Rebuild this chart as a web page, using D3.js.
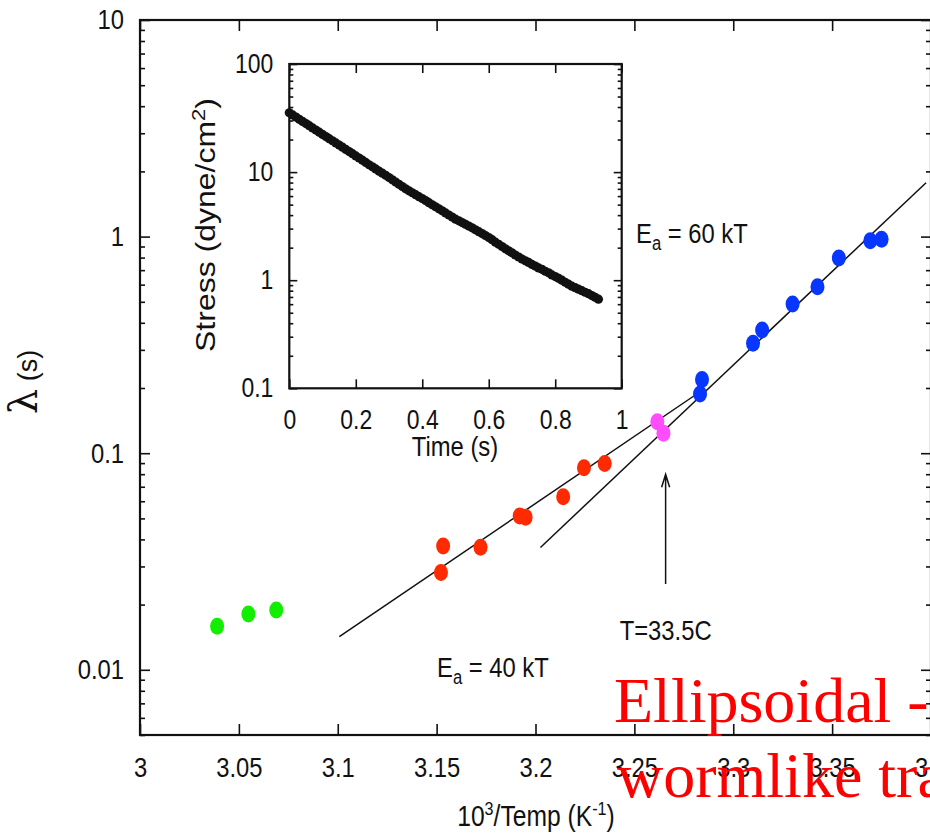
<!DOCTYPE html>
<html>
<head>
<meta charset="utf-8">
<script src="https://cdn.jsdelivr.net/npm/d3@7"></script>
<style>
  html, body { margin: 0; padding: 0; background: #fff; }
  svg { display: block; }
  text { font-family: "Liberation Sans", Arial, Helvetica, sans-serif; fill: #111; }
</style>
</head>
<body>
<svg id="chart" width="930" height="834"></svg>
<script>
// ---- main panel: relaxation time vs inverse temperature ----
const xTicks = [3, 3.05, 3.1, 3.15, 3.2, 3.25, 3.3, 3.35, 3.4];
const yTicks = [0.01, 0.1, 1, 10];

const greenX = [3.039, 3.0548, 3.0689];
const greenY = [0.0159, 0.0181, 0.0189];

const redX = [3.1522, 3.1533, 3.1722, 3.192, 3.195, 3.214, 3.2245, 3.235];
const redY = [0.0281, 0.0373, 0.0368, 0.0513, 0.0506, 0.063, 0.0857, 0.0897];

const magentaX = [3.2616, 3.2647];
const magentaY = [0.1396, 0.1236];

const blueX = [3.2832, 3.2842, 3.310, 3.3146, 3.330, 3.3426, 3.3534, 3.3693, 3.375];
const blueY = [0.1876, 0.219, 0.3216, 0.3706, 0.488, 0.587, 0.796, 0.957, 0.972];

// Arrhenius fits (Ea = 40 kT below the transition, Ea = 60 kT above)
const fit40X = [3.1008, 3.2836];
const fit40Y = [0.01422, 0.1932];
const fit60X = [3.2025, 3.3975];
const fit60Y = [0.0367, 1.774];

// transition marker
const arrowX = 3.2658;
const arrowY = [0.0249, 0.0799];

// ---- inset: stress relaxation ----
const insetXTicks = [0, 0.2, 0.4, 0.6, 0.8, 1];
const insetYTicks = [0.1, 1, 10, 100];
const time = [0.00,0.01,0.02,0.03,0.04,0.05,0.06,0.07,0.08,0.09,
              0.10,0.11,0.12,0.13,0.14,0.15,0.16,0.17,0.18,0.19,
              0.20,0.21,0.22,0.23,0.24,0.25,0.26,0.27,0.28,0.29,
              0.30,0.31,0.32,0.33,0.34,0.35,0.36,0.37,0.38,0.39,
              0.40,0.41,0.42,0.43,0.44,0.45,0.46,0.47,0.48,0.49,
              0.50,0.51,0.52,0.53,0.54,0.55,0.56,0.57,0.58,0.59,
              0.60,0.61,0.62,0.63,0.64,0.65,0.66,0.67,0.68,0.69,
              0.70,0.71,0.72,0.73,0.74,0.75,0.76,0.77,0.78,0.79,
              0.80,0.81,0.82,0.83,0.84,0.85,0.86,0.87,0.88,0.89,
              0.90,0.91,0.92,0.93];
const stress = [35.4,33.8,32.3,30.8,29.4,28.1,26.9,25.6,24.5,23.4,
                22.3,21.3,20.4,19.5,18.6,17.8,17.0,16.2,15.5,14.8,
                14.1,13.5,12.9,12.3,11.7,11.2,10.7,10.2,9.77,9.33,
                8.91,8.49,8.09,7.71,7.35,7.00,6.71,6.44,6.18,5.93,
                5.69,5.45,5.21,4.99,4.78,4.57,4.38,4.19,4.01,3.84,
                3.67,3.54,3.41,3.29,3.17,3.05,2.93,2.81,2.70,2.59,
                2.48,2.37,2.25,2.15,2.05,1.95,1.87,1.79,1.71,1.64,
                1.57,1.51,1.46,1.40,1.35,1.30,1.26,1.21,1.17,1.12,
                1.08,1.04,1.00,0.957,0.918,0.881,0.853,0.826,0.800,0.774,
                0.750,0.721,0.695,0.668];

const svg = d3.select("#chart");
const FS = 28;
const NARROW = 0.85;   // horizontal condensing of the sans-serif labels

// condense a text horizontally while keeping its anchor
function squeeze(sel, f = NARROW) {
  sel.each(function () {
    const L = this.getComputedTextLength();
    if (L > 0) d3.select(this).attr("textLength", L * f).attr("lengthAdjust", "spacingAndGlyphs");
  });
}

// ---------- main scales ----------
const x = d3.scaleLinear().domain([3, 3.4]).range([140, 931]);
const y = d3.scaleLog().domain([0.005, 10]).range([735, 20]);

const fmt = d3.format("~g");
const yMinor = y.ticks().filter(v => !yTicks.includes(v));

function styleAxis(g, size) {
  g.select(".domain").remove();
  g.selectAll("line").attr("stroke", "#111").attr("stroke-width", 1.6);
  g.selectAll("text").attr("font-size", size).attr("fill", "#111")
   .style("font-family", '"Liberation Sans",Arial,Helvetica,sans-serif')
   .call(squeeze);
}

const main = svg.append("g");

// left & right log axes with inward ticks
main.append("g").attr("transform", `translate(${x.range()[0]},0)`)
  .call(d3.axisLeft(y).tickValues(yTicks).tickSize(-10).tickPadding(16).tickFormat(fmt))
  .call(g => styleAxis(g, FS));
main.append("g").attr("transform", `translate(${x.range()[0]},0)`)
  .call(d3.axisLeft(y).tickValues(yMinor).tickSize(-5).tickFormat(""))
  .call(g => styleAxis(g, FS));
main.append("g").attr("transform", `translate(${x.range()[1]},0)`)
  .call(d3.axisRight(y).tickValues(yTicks).tickSize(-10).tickFormat(""))
  .call(g => styleAxis(g, FS));
main.append("g").attr("transform", `translate(${x.range()[1]},0)`)
  .call(d3.axisRight(y).tickValues(yMinor).tickSize(-5).tickFormat(""))
  .call(g => styleAxis(g, FS));

// bottom & top linear axes
main.append("g").attr("transform", `translate(0,${y.range()[0]})`)
  .call(d3.axisBottom(x).tickValues(xTicks).tickSize(-11).tickPadding(22).tickFormat(fmt))
  .call(g => styleAxis(g, FS));
main.append("g").attr("transform", `translate(0,${y.range()[1]})`)
  .call(d3.axisTop(x).tickValues(xTicks).tickSize(-11).tickFormat(""))
  .call(g => styleAxis(g, FS));

// frame
main.append("rect")
  .attr("x", x.range()[0]).attr("y", y.range()[1])
  .attr("width", x.range()[1] - x.range()[0])
  .attr("height", y.range()[0] - y.range()[1])
  .attr("fill", "none").attr("stroke", "#111").attr("stroke-width", 2.2);

// fit lines
const lineGen = d3.line().x(d => x(d[0])).y(d => y(d[1]));
[[fit40X, fit40Y], [fit60X, fit60Y]].forEach(([xs, ys]) => {
  main.append("path")
    .datum(xs.map((v, i) => [v, ys[i]]))
    .attr("d", lineGen)
    .attr("fill", "none").attr("stroke", "#111").attr("stroke-width", 1.5);
});

// data points
const groups = [
  [greenX, greenY, "#11ee00"],
  [redX, redY, "#ff2a00"],
  [magentaX, magentaY, "#ff4cff"],
  [blueX, blueY, "#0736ff"]
];
groups.forEach(([xs, ys, c]) => {
  main.append("g").selectAll("ellipse")
    .data(xs.map((v, i) => [v, ys[i]]))
    .join("ellipse")
    .attr("cx", d => x(d[0])).attr("cy", d => y(d[1]))
    .attr("rx", 7).attr("ry", 8.5)
    .attr("fill", c);
});

// transition arrow
const ax = x(arrowX);
const aBot = y(arrowY[0]), aTop = y(arrowY[1]);
main.append("path")
  .attr("d", `M${ax},${aBot}L${ax},${aTop}M${ax - 4},${aTop + 13}L${ax},${aTop}L${ax + 4},${aTop + 13}`)
  .attr("fill", "none").attr("stroke", "#111").attr("stroke-width", 1.5);

main.append("text").attr("x", ax).attr("y", 640).attr("text-anchor", "middle")
  .attr("font-size", FS).text("T=33.5C").call(squeeze);

// activation energy labels
function eaLabel(px, py, value) {
  const t = main.append("text").attr("x", px).attr("y", py).attr("font-size", FS);
  t.append("tspan").text("E");
  t.append("tspan").attr("dy", 7).attr("font-size", FS * 0.7).text("a");
  t.append("tspan").attr("dy", -7).text(` = ${value} kT`);
  t.call(squeeze);
}
eaLabel(636, 243, 60);
eaLabel(437, 677, 40);

// axis titles
const xt = main.append("text").attr("x", 536).attr("y", 826).attr("text-anchor", "middle").attr("font-size", 29);
xt.append("tspan").text("10");
xt.append("tspan").attr("dy", -11).attr("font-size", 19).text("3");
xt.append("tspan").attr("dy", 11).text("/Temp (K");
xt.append("tspan").attr("dy", -11).attr("font-size", 19).text("-1");
xt.append("tspan").attr("dy", 11).text(")");
xt.call(squeeze);

const yt = main.append("text").attr("transform", "translate(37,382) rotate(-90)").attr("text-anchor", "middle");
yt.append("tspan").attr("font-size", 40).style("font-family", '"DejaVu Serif","Liberation Serif",serif').text("λ");
yt.append("tspan").attr("font-size", 27).text(" (s)");

// ---------- inset ----------
const ix = d3.scaleLinear().domain([0, 1]).range([289.3, 621.7]);
const iy = d3.scaleLog().domain([0.1, 100]).range([388.3, 64]);
const iyMinor = iy.ticks().filter(v => !insetYTicks.includes(v));
const IFS = 27;

const inset = svg.append("g");
inset.append("rect")
  .attr("x", ix.range()[0]).attr("y", iy.range()[1])
  .attr("width", ix.range()[1] - ix.range()[0])
  .attr("height", iy.range()[0] - iy.range()[1])
  .attr("fill", "#fff");

inset.append("g").attr("transform", `translate(${ix.range()[0]},0)`)
  .call(d3.axisLeft(iy).tickValues(insetYTicks).tickSize(-8).tickPadding(16).tickFormat(fmt))
  .call(g => styleAxis(g, IFS));
inset.append("g").attr("transform", `translate(${ix.range()[0]},0)`)
  .call(d3.axisLeft(iy).tickValues(iyMinor).tickSize(-4).tickFormat(""))
  .call(g => styleAxis(g, IFS));
inset.append("g").attr("transform", `translate(${ix.range()[1]},0)`)
  .call(d3.axisRight(iy).tickValues(insetYTicks).tickSize(-8).tickFormat(""))
  .call(g => styleAxis(g, IFS));
inset.append("g").attr("transform", `translate(${ix.range()[1]},0)`)
  .call(d3.axisRight(iy).tickValues(iyMinor).tickSize(-4).tickFormat(""))
  .call(g => styleAxis(g, IFS));
inset.append("g").attr("transform", `translate(0,${iy.range()[0]})`)
  .call(d3.axisBottom(ix).tickValues(insetXTicks).tickSize(-9).tickPadding(22).tickFormat(fmt))
  .call(g => styleAxis(g, IFS));
inset.append("g").attr("transform", `translate(0,${iy.range()[1]})`)
  .call(d3.axisTop(ix).tickValues(insetXTicks).tickSize(-9).tickFormat(""))
  .call(g => styleAxis(g, IFS));

inset.append("rect")
  .attr("x", ix.range()[0]).attr("y", iy.range()[1])
  .attr("width", ix.range()[1] - ix.range()[0])
  .attr("height", iy.range()[0] - iy.range()[1])
  .attr("fill", "none").attr("stroke", "#111").attr("stroke-width", 2.2);

inset.append("g").selectAll("circle")
  .data(time.map((t, i) => [t, stress[i]]))
  .join("circle")
  .attr("cx", d => ix(d[0])).attr("cy", d => iy(d[1]))
  .attr("r", 4.6).attr("fill", "#111");

inset.append("text").attr("x", 455).attr("y", 456).attr("text-anchor", "middle")
  .attr("font-size", FS).text("Time (s)").call(squeeze);

// vertical title: full length along the axis, condensed across it
const st = inset.append("text").attr("transform", `translate(215,225) rotate(-90) scale(1,${NARROW})`)
  .attr("text-anchor", "middle").attr("font-size", 32);
st.append("tspan").text("Stress (dyne/cm");
st.append("tspan").attr("dy", -12).attr("font-size", 22).text("2");
st.append("tspan").attr("dy", 12).text(")");

// ---------- overlay caption ----------
const capFont = '"Liberation Serif","Times New Roman",serif';
svg.append("text").attr("x", 614).attr("y", 722).attr("font-size", 64)
  .style("font-family", capFont).style("fill", "#ff0000")
  .text("Ellipsoidal -");
svg.append("text").attr("x", 617).attr("y", 797).attr("font-size", 64)
  .style("font-family", capFont).style("fill", "#ff0000")
  .text("wormlike transition");
</script>
</body>
</html>
